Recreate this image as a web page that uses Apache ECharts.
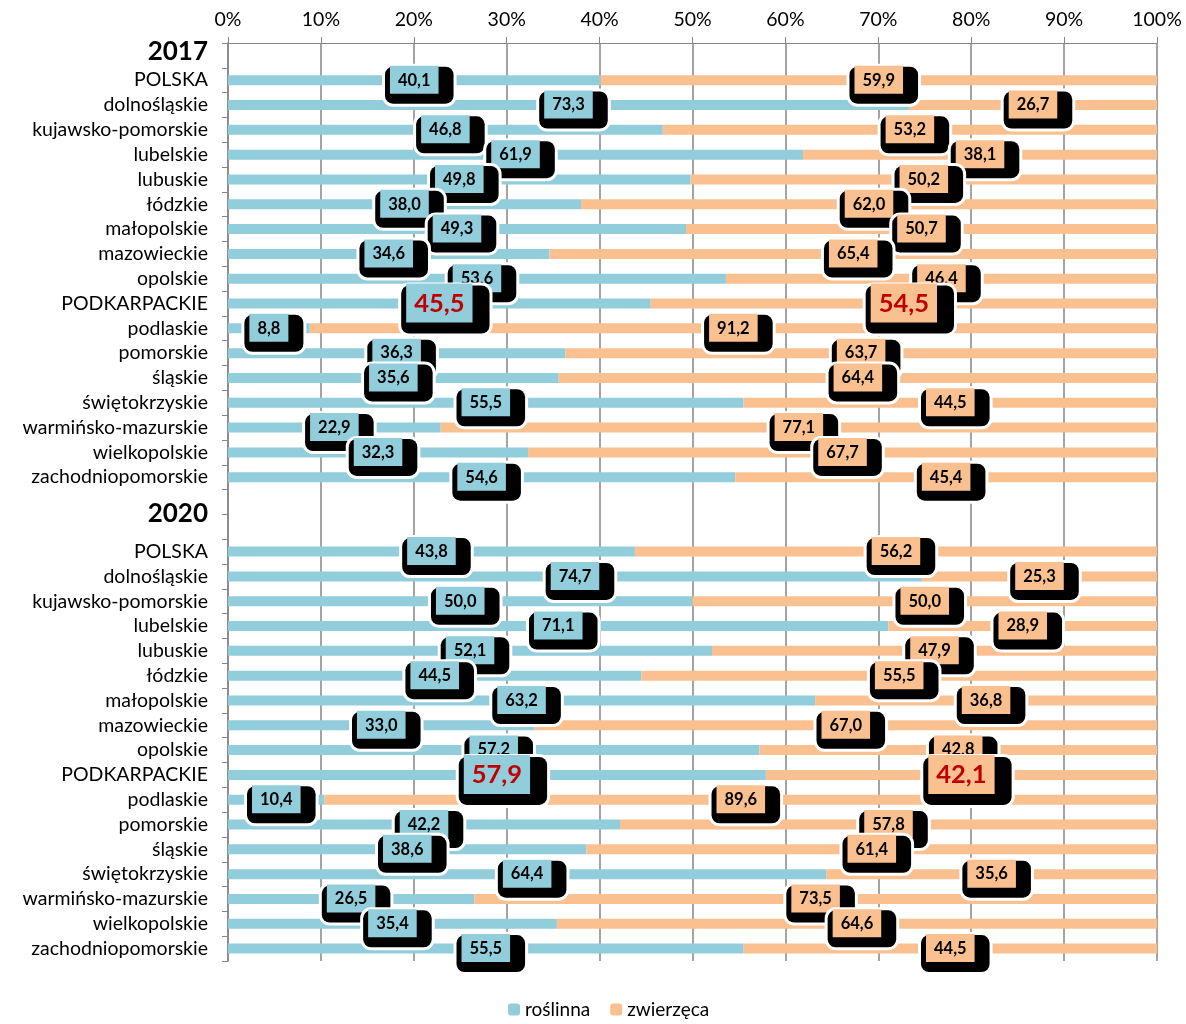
<!DOCTYPE html>
<html lang="pl">
<head>
    <meta charset="UTF-8">
    <script src="https://cdn.jsdelivr.net/npm/echarts@6/dist/echarts.min.js"></script>
    <title>roślinna / zwierzęca</title>
</head>
<body style="margin:0">
<div id="main" style="width: 1186px;height:1024px;"></div>
<script type="text/javascript">
        var regions = ['POLSKA', 'dolnośląskie', 'kujawsko-pomorskie', 'lubelskie', 'lubuskie', 'łódzkie',
            'małopolskie', 'mazowieckie', 'opolskie', 'PODKARPACKIE', 'podlaskie', 'pomorskie', 'śląskie',
            'świętokrzyskie', 'warmińsko-mazurskie', 'wielkopolskie', 'zachodniopomorskie'];
        var years = ['2017', '2020'];
        var roslinna2017 = [40.1, 73.3, 46.8, 61.9, 49.8, 38.0, 49.3, 34.6, 53.6, 45.5, 8.8, 36.3, 35.6, 55.5, 22.9, 32.3, 54.6];
        var zwierzeca2017 = [59.9, 26.7, 53.2, 38.1, 50.2, 62.0, 50.7, 65.4, 46.4, 54.5, 91.2, 63.7, 64.4, 44.5, 77.1, 67.7, 45.4];
        var roslinna2020 = [43.8, 74.7, 50.0, 71.1, 52.1, 44.5, 63.2, 33.0, 57.2, 57.9, 10.4, 42.2, 38.6, 64.4, 26.5, 35.4, 55.5];
        var zwierzeca2020 = [56.2, 25.3, 50.0, 28.9, 47.9, 55.5, 36.8, 67.0, 42.8, 42.1, 89.6, 57.8, 61.4, 35.6, 73.5, 64.6, 44.5];
        var xTicks = [0, 10, 20, 30, 40, 50, 60, 70, 80, 90, 100];

        var FONT = 'Lato';
        var BLUE = '#92cddc';
        var ORANGE = '#fac090';
        var GRID = '#868686';

        // rows: year header, regions, empty row, year header, regions
        var categories = [years[0]].concat(regions, [''], [years[1]], regions);

        function fmt(v) {
            return v.toFixed(1).replace('.', ',');
        }

        function boxLabel(color, big) {
            return {
                show: true,
                position: 'inside',
                offset: big ? [6, 6] : [5, 5],
                backgroundColor: '#000',
                borderColor: '#fff',
                borderWidth: 3,
                borderRadius: 8,
                padding: big ? [4, 17, 17, 5] : [4, 15, 15, 5],
                formatter: function (p) {
                    return (big ? '{b|' : '{v|') + fmt(p.value) + '}';
                },
                rich: {
                    v: {
                        backgroundColor: color, padding: [6, 8, 5, 8], lineHeight: 18,
                        fontSize: 16.5, fontWeight: 'bold', fontFamily: FONT, color: '#000'
                    },
                    b: {
                        backgroundColor: color, padding: [7, 8, 6, 8], lineHeight: 27,
                        fontSize: 25.5, fontWeight: 'bold', fontFamily: FONT, color: '#c00000'
                    }
                }
            };
        }

        function buildData(a2017, a2020, color) {
            var rows = [null].concat(a2017, [null, null], a2020);
            return rows.map(function (v, i) {
                if (v === null) return null;
                if (categories[i] === 'PODKARPACKIE') {
                    return { value: v, label: boxLabel(color, true) };
                }
                return v;
            });
        }

        var myChart = echarts.init(document.getElementById('main'));
        var option = {
            animation: false,
            textStyle: { fontFamily: FONT },
            grid: { left: 228, right: 29, top: 43, bottom: 63 },
            legend: {
                bottom: 0,
                left: 503,
                itemWidth: 12,
                itemHeight: 12,
                itemGap: 20,
                textStyle: { fontSize: 19, color: '#000', fontFamily: FONT },
                data: ['roślinna', 'zwierzęca']
            },
            xAxis: {
                type: 'value',
                position: 'top',
                min: xTicks[0],
                max: xTicks[xTicks.length - 1],
                interval: xTicks[1] - xTicks[0],
                axisLine: { show: true, lineStyle: { color: GRID } },
                axisTick: { show: true, length: 6, lineStyle: { color: GRID } },
                splitLine: { show: true, lineStyle: { color: GRID, width: 1.5 } },
                axisLabel: { formatter: '{value}%', fontSize: 19.5, color: '#000', margin: 13, fontFamily: FONT }
            },
            yAxis: {
                type: 'category',
                inverse: true,
                data: categories,
                axisLine: { show: true, lineStyle: { color: GRID, width: 1.5 } },
                axisTick: { show: true, length: 6, lineStyle: { color: GRID } },
                axisLabel: {
                    fontSize: 19.5, color: '#000', margin: 20, fontFamily: FONT, interval: 0,
                    formatter: function (value) {
                        if (value === years[0]) return '{y1|' + value + '}';
                        if (value === years[1]) return '{y2|' + value + '}';
                        return value;
                    },
                    rich: {
                        y1: { fontSize: 26, fontWeight: 'bold', color: '#000', fontFamily: FONT, padding: [0, 0, 8, 0] },
                        y2: { fontSize: 26, fontWeight: 'bold', color: '#000', fontFamily: FONT, padding: [0, 0, 26, 0] }
                    }
                }
            },
            series: [
                {
                    name: 'roślinna',
                    type: 'bar',
                    stack: 'total',
                    barWidth: 10,
                    itemStyle: { color: BLUE },
                    label: boxLabel(BLUE, false),
                    data: buildData(roslinna2017, roslinna2020, BLUE)
                },
                {
                    name: 'zwierzęca',
                    type: 'bar',
                    stack: 'total',
                    barWidth: 10,
                    itemStyle: { color: ORANGE },
                    label: boxLabel(ORANGE, false),
                    data: buildData(zwierzeca2017, zwierzeca2020, ORANGE)
                }
            ]
        };
        myChart.setOption(option);
</script>
</body>
</html>
